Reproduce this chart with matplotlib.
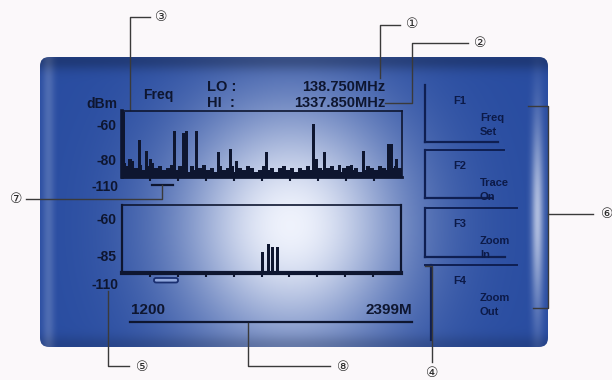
import numpy as np
import matplotlib
matplotlib.use('Agg')
import matplotlib.pyplot as plt
from matplotlib.patches import FancyBboxPatch

plt.rcParams['font.family'] = ['Liberation Sans', 'DejaVu Sans', 'Noto Sans CJK JP']

# ---- data ----
lo_mhz, hi_mhz = 138.75, 1337.85          # upper trace span
lo2_mhz, hi2_mhz = 1200.0, 2399.0         # lower trace span

# upper trace: noise floor (dBm), evenly spread over the span
noise_dbm = [-82, -84, -81, -85, -83, -86, -84, -82, -85, -84, -86, -85, -83, -86,
             -84, -85, -87, -84, -86, -85, -83, -86, -85, -87, -84, -86, -85, -84,
             -87, -85, -86, -84, -85, -87, -86, -84, -86, -85, -87, -85, -84, -86,
             -85, -87, -85, -86, -84, -86, -87, -85, -86, -85, -84, -86, -87, -85,
             -84, -86, -85, -87, -86, -84, -85, -86, -84, -85, -86, -85, -84, -85]

# upper trace: spikes
spike_mhz = [144, 173, 213, 244, 259, 363, 401, 413, 456, 551, 604, 630,
             758, 958, 970, 1008, 1069, 1122, 1172, 1279, 1294, 1315]
spike_dbm = [-53, -80, -69, -75, -80, -64, -65, -64, -63.5, -76, -74, -81,
             -76, -59.5, -80, -76, -83, -83, -75, -71, -71, -80]

# lower trace: signals
sig_mhz = [1804, 1831, 1847, 1869]
sig_dbm = [-83, -77.5, -79.5, -79.5]

top_ticks = ['-60', '-80']
bot_ticks = ['-60', '-85']

softkeys = [('F1', 'Freq', 'Set'), ('F2', 'Trace', 'On'),
            ('F3', 'Zoom', 'In'), ('F4', 'Zoom', 'Out')]

W, H = 612, 380
ink = '#0e1630'
key_ink = '#0c1a48'
line_c = '#3a3a3a'

fig = plt.figure(figsize=(W / 100, H / 100), dpi=100)
fig.patch.set_facecolor('#fbf8fa')
bg = fig.add_axes([0, 0, 1, 1])
bg.set_xlim(0, W)
bg.set_ylim(H, 0)
bg.axis('off')

# ---- device panel with glare ----
yy, xx = np.mgrid[0:H, 0:W]
base = np.array([0.16, 0.30, 0.63])
w1 = 0.97 * np.exp(-(((xx - 290) / 115.0) ** 2 + ((yy - 225) / 125.0) ** 2))
w2 = 0.65 * np.exp(-((xx - 537) / 6.0) ** 2) * np.exp(-((yy - 215) / 95.0) ** 2)
w3 = 0.18 * np.exp(-((xx - 48) / 6.0) ** 2)
w = np.maximum(np.maximum(w1, w2), w3)[..., None]
img = base * (1 - w) + np.array([0.96, 0.97, 1.0]) * w
shade = 1 - 0.25 * np.exp(-((yy - 60) / 10.0) ** 2) - 0.15 * np.exp(-((yy - 345) / 10.0) ** 2)
img = np.clip(img * shade[..., None], 0, 1)

panel = FancyBboxPatch((40, 57), 508, 290, boxstyle='round,pad=0,rounding_size=9',
                       facecolor='none', edgecolor='none')
bg.add_patch(panel)
im = bg.imshow(img, extent=(0, W, H, 0), aspect='auto', zorder=0)
im.set_clip_path(panel)


def px_axes(x0, y0, x1, y1):
    return fig.add_axes([x0 / W, 1 - y1 / H, (x1 - x0) / W, (y1 - y0) / H])


# ---- upper spectrum ----
ax1 = px_axes(122, 111, 402, 177)
ax1.patch.set_alpha(0)
bin_w = (hi_mhz - lo_mhz) / len(noise_dbm)
noise_x = lo_mhz + bin_w * (np.arange(len(noise_dbm)) + 0.5)
ax1.bar(noise_x, np.array(noise_dbm) + 90, bottom=-90, width=bin_w * 0.9, color=ink, lw=0)
ax1.bar(spike_mhz, np.array(spike_dbm) + 90, bottom=-90, width=13, color=ink, lw=0)
ax1.set_xlim(lo_mhz, hi_mhz)
ax1.set_ylim(-90, -52.3)
ax1.set_xticks(np.linspace(lo_mhz, hi_mhz, 11)[1:-1])
ax1.set_xticklabels([])
ax1.tick_params(axis='x', direction='out', length=3, width=1.5, color=ink)
ax1.set_yticks([-60, -80])
ax1.set_yticklabels(top_ticks, fontsize=10, fontweight='bold', color=ink)
ax1.tick_params(axis='y', length=0, pad=4)
for side, lw in [('left', 2.6), ('top', 1.2), ('right', 1.2), ('bottom', 2.0)]:
    ax1.spines[side].set_linewidth(lw)
    ax1.spines[side].set_color(ink)

# ---- lower spectrum ----
ax2 = px_axes(122, 205, 401, 273)
ax2.patch.set_alpha(0)
ax2.bar(sig_mhz, np.array(sig_dbm) + 97, bottom=-97, width=14, color=ink, lw=0)
ax2.set_xlim(lo2_mhz, hi2_mhz)
ax2.set_ylim(-97, -51)
ax2.set_xticks(np.linspace(lo2_mhz, hi2_mhz, 11)[1:-1])
ax2.set_xticklabels([])
ax2.tick_params(axis='x', direction='out', length=3, width=1.5, color=ink)
ax2.set_yticks([-60, -85])
ax2.set_yticklabels(bot_ticks, fontsize=10, fontweight='bold', color=ink)
ax2.tick_params(axis='y', length=0, pad=4)
for side, lw in [('left', 1.6), ('top', 1.2), ('right', 1.6), ('bottom', 3.0)]:
    ax2.spines[side].set_linewidth(lw)
    ax2.spines[side].set_color(ink)

# ---- screen texts ----
tkw = dict(fontweight='bold', color=ink, va='center')
bg.text(117, 104, 'dBm', ha='right', fontsize=10, **tkw)
bg.text(118, 187, '-110', ha='right', fontsize=10, **tkw)
bg.text(118, 285, '-110', ha='right', fontsize=10, **tkw)
bg.text(143, 95, 'Freq', ha='left', fontsize=10, **tkw)
bg.text(207, 87, 'LO :', ha='left', fontsize=10.5, **tkw)
bg.text(207, 103, 'HI  :', ha='left', fontsize=10.5, **tkw)
bg.text(385, 87, f'{lo_mhz:.3f}MHz', ha='right', fontsize=10.5, **tkw)
bg.text(385, 103, f'{hi_mhz:.3f}MHz', ha='right', fontsize=10.5, **tkw)
bg.text(131, 310, f'{lo2_mhz:.0f}', ha='left', fontsize=11, **tkw)
bg.text(412, 310, f'{hi2_mhz:.0f}M', ha='right', fontsize=11, **tkw)
bg.plot([130, 412], [322, 322], color=ink, lw=1.6)

# zoom markers under the traces
bg.plot([152, 173], [185, 185], color=ink, lw=1.6)
bg.add_patch(FancyBboxPatch((154, 278), 24, 4.5, boxstyle='round,pad=0,rounding_size=2',
                            facecolor='#8fa6dc', edgecolor='#1a2f70', lw=1.3))

# ---- soft keys ----
kc = '#0f1f52'
key_tops = [85, 150, 208, 265]
key_bots = [142, 198, 257, 340]
key_right = [498, 492, 505, 505]
for (fk, l1, l2), t, b, r in zip(softkeys, key_tops, key_bots, key_right):
    xl = 425 if fk != 'F4' else 431
    bg.plot([xl, xl], [t, b], color=kc, lw=1.6)
    if fk != 'F4':
        bg.plot([xl, r], [b, b], color=kc, lw=1.6)
    if fk != 'F1':
        bg.plot([425, r + 12], [t, t], color=kc, lw=1.4)
    bg.text(460, t + 16, fk, fontsize=8, fontweight='bold', color=key_ink, ha='center', va='center')
    bg.text(480, t + 33, l1, fontsize=8, fontweight='bold', color=key_ink, ha='left', va='center')
    bg.text(480, t + 47, l2, fontsize=8, fontweight='bold', color=key_ink, ha='left', va='center')

# ---- callouts ----
ckw = dict(fontsize=10, color='#2a2a2a', ha='center', va='center')
def callout(pts, label, lx, ly):
    xs, ys = zip(*pts)
    bg.plot(xs, ys, color=line_c, lw=1.0)
    bg.text(lx, ly, label, **ckw)

callout([(130, 110), (130, 17), (150, 17)], '\u2462', 161, 17)
callout([(380, 78), (380, 25), (400, 25)], '\u2460', 412, 24)
callout([(385, 103), (412, 103), (412, 43), (468, 43)], '\u2461', 480, 43)
callout([(528, 106), (548, 106), (548, 308), (533, 308)], '', 0, 0)
callout([(548, 214), (593, 214)], '\u2465', 607, 214)
callout([(162, 185), (162, 199), (26, 199)], '\u2466', 16, 199)
callout([(108, 291), (108, 366), (129, 366)], '\u2464', 142, 367)
callout([(248, 323), (248, 366), (330, 366)], '\u2467', 343, 367)
callout([(425, 266), (432, 266), (432, 362)], '\u2463', 432, 373)

fig.savefig('out.png', dpi=100)
